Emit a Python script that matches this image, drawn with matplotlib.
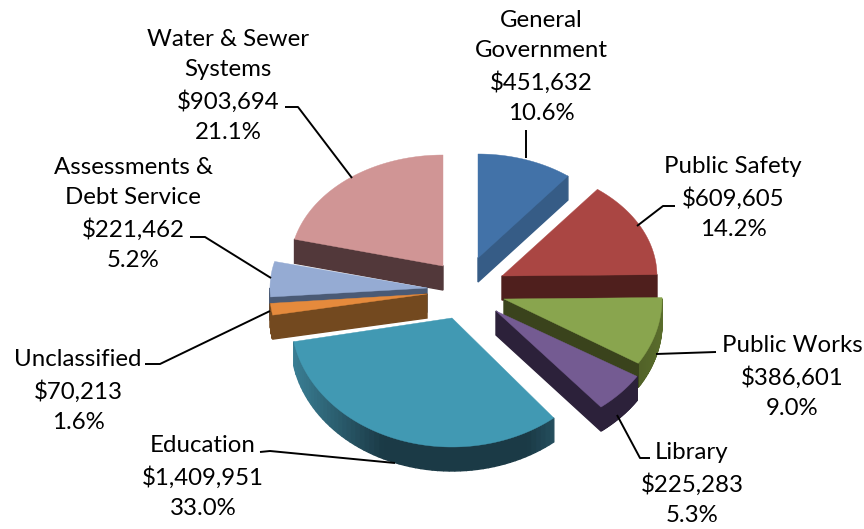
import numpy as np
import matplotlib
matplotlib.use("Agg")
import matplotlib.pyplot as plt
from matplotlib.colors import to_rgb
from matplotlib.patches import Polygon

# budget data, clockwise from 12 o'clock
names = ["General\nGovernment", "Public Safety", "Public Works", "Library", "Education",
         "Unclassified", "Assessments &\nDebt Service", "Water & Sewer\nSystems"]
values = [451632, 609605, 386601, 225283, 1409951, 70213, 221462, 903694]

top_colors = ["#4272A8", "#AA4643", "#89A54E", "#745B92", "#4199B3", "#E58A3C", "#95ABD3", "#D09595"]
wall_colors = ["#365C86", "#4F1F1D", "#3A431C", "#2C213A", "#1B3A46", "#73491F", "#4A5A75", "#52383A"]
arc_lit = ["#365C86", "#4F1F1D", "#5A6D2C", "#2C213A", "#3A7F95", "#73491F", "#4A5A75", "#52383A"]

# layout in pixels: where each exploded slice has its tip, and its ellipse radii
apex_x = [478, 502, 504, 496, 452, 427, 427, 443]
apex_y = [258, 276, 299, 311, 318, 294, 288, 266]
rx = [146, 155, 158, 166, 161, 157, 157, 153]
ry = [104, 110, 122, 124, 129, 115, 110, 111]
depth = 24

label_pos = [(541, 67), (733, 198), (792, 377), (692, 484), (203, 477), (78, 391), (133, 214), (228, 86)]
leaders = [
    [(526, 130), (526, 158)],
    [(637, 226), (663, 206), (675, 206)],
    [(656, 354), (716, 352)],
    [(617, 415), (640, 458), (650, 458)],
    [(260, 452), (270, 451), (395, 463)],
    [(145, 364), (160, 364), (270, 311)],
    [(190, 237), (205, 237), (271, 278)],
    [(285, 107), (298, 107), (352, 178)],
]

plt.rcParams["font.family"] = ["Lato", "DejaVu Sans"]

fig = plt.figure(figsize=(8.64, 5.29), dpi=100)
ax = fig.add_axes([0, 0, 1, 1])
ax.set_xlim(0, 864)
ax.set_ylim(529, 0)
ax.axis("off")

total = sum(values)
edges = np.concatenate([[0], np.cumsum(values)]) / total * 2 * np.pi


def blend(c1, c2, t):
    a, b = np.array(to_rgb(c1)), np.array(to_rgb(c2))
    return tuple(a + (b - a) * t)


def draw_slice(i):
    th = np.linspace(edges[i], edges[i + 1], 60)
    ex = apex_x[i] + rx[i] * np.sin(th)
    ey = apex_y[i] - ry[i] * np.cos(th)
    # outline goes apex -> arc -> apex, clockwise on screen
    xs = np.concatenate([[apex_x[i]], ex])
    ys = np.concatenate([[apex_y[i]], ey])
    n = len(xs)
    for j in range(n):
        k = (j + 1) % n
        # only segments running right to left face the viewer
        if xs[k] - xs[j] >= 0:
            continue
        color = wall_colors[i]
        if 0 < j < n - 1:
            t = np.clip((abs(np.sin(th[j])) - 0.45) / 0.55, 0, 1)
            color = blend(wall_colors[i], arc_lit[i], t)
        quad = [(xs[j], ys[j]), (xs[k], ys[k]), (xs[k], ys[k] + depth), (xs[j], ys[j] + depth)]
        ax.add_patch(Polygon(quad, closed=True, fc=color, ec=color, lw=1.0))
    ax.add_patch(Polygon(np.column_stack([xs, ys]), closed=True, fc=top_colors[i], ec=top_colors[i], lw=0.3))


for i in np.argsort(apex_y):
    draw_slice(i)

for pts in leaders:
    px, py = zip(*pts)
    ax.plot(px, py, color="black", lw=1.4, solid_capstyle="butt", zorder=5)

for name, val, pos in zip(names, values, label_pos):
    ax.text(pos[0], pos[1], f"{name}\n${val:,}\n{val / total * 100:.1f}%",
            ha="center", va="center", fontsize=17.3, linespacing=1.55, color="black", zorder=6)

fig.savefig("out.png", dpi=100)
